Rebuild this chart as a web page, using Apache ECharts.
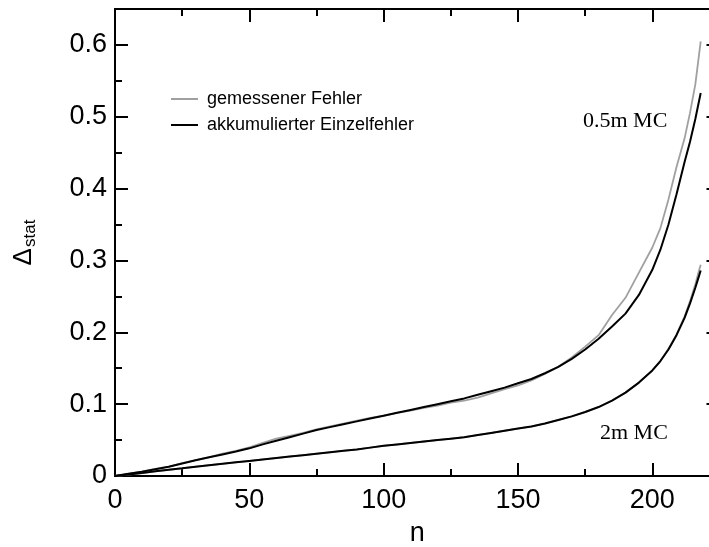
<!DOCTYPE html>
<html>
<head>
<meta charset="utf-8">
<script src="https://cdn.jsdelivr.net/npm/echarts@6/dist/echarts.min.js"></script>
<style>html,body{margin:0;padding:0;background:#fff}#c{width:709px;height:547px}</style>
</head>
<body>
<div id="c"></div>
<script>
// ---- data ----
const nValues = [0,5,10,15,20,25,30,35,40,45,50,55,60,65,70,75,80,85,90,95,100,105,110,115,120,125,130,135,140,145,150,155,160,165,170,175,180,185,190,195,200,203,206,209,212,214,216,217,218];
// 0.5m MC
const measured05 = [0,0.003,0.006,0.010,0.013,0.018,0.022,0.026,0.031,0.035,0.040,0.046,0.052,0.056,0.060,0.065,0.069,0.073,0.077,0.081,0.084,0.088,0.091,0.095,0.098,0.102,0.105,0.109,0.115,0.121,0.126,0.133,0.142,0.152,0.165,0.180,0.196,0.224,0.248,0.283,0.318,0.345,0.385,0.430,0.470,0.505,0.545,0.575,0.605];
const accumulated05 = [0,0.003,0.006,0.0095,0.013,0.0175,0.022,0.026,0.030,0.034,0.0385,0.044,0.049,0.054,0.059,0.064,0.068,0.072,0.076,0.080,0.084,0.088,0.092,0.096,0.100,0.104,0.108,0.113,0.118,0.123,0.129,0.135,0.143,0.152,0.163,0.176,0.191,0.208,0.226,0.252,0.287,0.315,0.350,0.392,0.437,0.465,0.497,0.515,0.533];
// 2m MC
const measured2 = [0,0.002,0.004,0.0065,0.0087,0.0107,0.013,0.015,0.017,0.019,0.021,0.023,0.025,0.027,0.029,0.031,0.033,0.035,0.037,0.0395,0.042,0.044,0.046,0.048,0.050,0.052,0.054,0.057,0.060,0.063,0.066,0.069,0.073,0.078,0.083,0.089,0.096,0.105,0.116,0.130,0.147,0.160,0.177,0.197,0.222,0.243,0.267,0.281,0.294];
const accumulated2 = [0,0.002,0.004,0.0065,0.0087,0.0107,0.013,0.015,0.017,0.019,0.021,0.023,0.025,0.027,0.029,0.031,0.033,0.035,0.037,0.0395,0.042,0.044,0.046,0.048,0.050,0.052,0.054,0.057,0.060,0.063,0.066,0.069,0.073,0.078,0.083,0.089,0.096,0.105,0.116,0.130,0.147,0.160,0.176,0.196,0.220,0.240,0.262,0.274,0.286];
const seriesNames = ['gemessener Fehler', 'akkumulierter Einzelfehler'];
const annotations = ['0.5m MC', '2m MC'];
const xName = 'n';
const xMin = 0, xMax = 225, xMajor = 50, xMinor = 25;
const yMin = 0, yMax = 0.65, yMajor = 0.1, yMinor = 0.05;

// ---- chart ----
const pairs = ys => nValues.map((n, i) => [n, ys[i]]);
const FONT = 'Liberation Sans';
const LBL = 27;
const lineAxis = {onZero: false, lineStyle: {color: '#000', width: 2}};
function xAx(pos, major, showLabel, name) {
  return {
    type: 'value', position: pos, min: xMin, max: xMax, interval: major ? xMajor : xMinor,
    gridIndex: 0,
    axisLine: lineAxis,
    axisTick: {inside: true, length: major ? 13 : 7, lineStyle: {color: '#000', width: 2}},
    axisLabel: {show: showLabel, fontFamily: FONT, fontSize: LBL, color: '#000', margin: 11, showMaxLabel: false},
    splitLine: {show: false},
    name: name || '', nameLocation: 'middle', nameGap: 44,
    nameTextStyle: {fontFamily: FONT, fontSize: LBL, color: '#000'}
  };
}
function yAx(pos, major, showLabel, withName) {
  return {
    type: 'value', position: pos, min: yMin, max: yMax, interval: major ? yMajor : yMinor,
    gridIndex: 0,
    axisLine: lineAxis,
    axisTick: {inside: true, length: major ? 13 : 7, lineStyle: {color: '#000', width: 2}},
    axisLabel: {show: showLabel, fontFamily: FONT, fontSize: LBL, color: '#000', margin: 8, showMaxLabel: false},
    splitLine: {show: false},
    name: withName ? '{d|Δ}{s|stat}' : '', nameLocation: 'middle', nameGap: 76, nameRotate: 90,
    nameTextStyle: {fontFamily: FONT, color: '#000', rich: {
      d: {fontFamily: FONT, fontSize: 26, color: '#000'},
      s: {fontFamily: FONT, fontSize: 17, color: '#000', padding: [14, 0, 0, 1]}
    }}
  };
}
const gray = '#a0a0a0';
function line(name, ys, color, width) {
  return {type: 'line', name, data: pairs(ys), xAxisIndex: 0, yAxisIndex: 0,
    showSymbol: false, symbol: 'none', smooth: false, animation: false,
    lineStyle: {color, width}, itemStyle: {color}};
}
const chart = echarts.init(document.getElementById('c'), null, {renderer: 'canvas'});
chart.setOption({
  animation: false,
  backgroundColor: '#fff',
  grid: {left: 115, top: 9, width: 604.5, height: 467, containLabel: false, outerBoundsMode: 'none'},
  xAxis: [xAx('bottom', true, true, xName), xAx('bottom', false, false), xAx('top', true, false), xAx('top', false, false)],
  yAxis: [yAx('left', true, true, true), yAx('left', false, false), yAx('right', true, false), yAx('right', false, false)],
  legend: {
    data: seriesNames, left: 166, top: 84, orient: 'vertical', icon: 'rect',
    itemWidth: 27, itemHeight: 2, itemGap: 6,
    textStyle: {fontFamily: FONT, fontSize: 18, color: '#000', lineHeight: 20, padding: [0, 0, 0, 4]}
  },
  series: [
    line(seriesNames[0], measured05, gray, 1.8),
    line(seriesNames[0], measured2, gray, 1.8),
    line(seriesNames[1], accumulated05, '#000', 2),
    line(seriesNames[1], accumulated2, '#000', 2)
  ],
  graphic: [
    {type: 'text', left: 583, top: 110, style: {text: annotations[0], font: '22px "Liberation Serif"', fill: '#000'}},
    {type: 'text', left: 600, top: 422, style: {text: annotations[1], font: '22px "Liberation Serif"', fill: '#000'}}
  ]
});
</script>
</body>
</html>
